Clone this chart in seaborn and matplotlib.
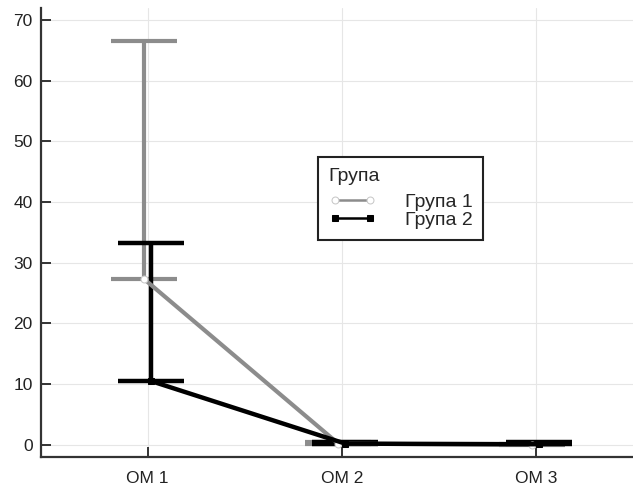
import numpy as np
import pandas as pd
import matplotlib
matplotlib.use("Agg")
import matplotlib.pyplot as plt
import seaborn as sns
from matplotlib.ticker import MultipleLocator

# values
visits = ["OM 1", "OM 2", "OM 3"]
group1_mean = [27.3, 0.2, 0.0]
group1_err_up = [39.2, 0.3, 0.1]
group2_mean = [10.5, 0.2, 0.1]
group2_err_up = [22.8, 0.3, 0.3]
group_names = ["Група 1", "Група 2"]

sns.set_style("whitegrid")
plt.rcParams['font.family'] = ['Liberation Sans', 'DejaVu Sans']

df = pd.DataFrame({
    "visit": visits * 2,
    "pos": list(range(3)) * 2,
    "mean": group1_mean + group2_mean,
    "err": group1_err_up + group2_err_up,
    "group": [group_names[0]] * 3 + [group_names[1]] * 3,
})
offsets = {group_names[0]: -0.018, group_names[1]: 0.018}
df["x"] = df["pos"] + df["group"].map(offsets)

fig = plt.figure(figsize=(6.33, 4.87), dpi=100)
ax = fig.add_axes([0.065, 0.0616, 0.935, 0.9225])

styles = {
    group_names[0]: dict(color="#8c8c8c", marker="o", mfc="white", mec="#c8c8c8", lw=3.0, ms=5),
    group_names[1]: dict(color="black", marker="s", mfc="black", mec="black", lw=3.2, ms=5),
}

for name, sub in df.groupby("group"):
    st = styles[name]
    ax.errorbar(sub["x"], sub["mean"], yerr=[np.zeros(len(sub)), sub["err"]],
                fmt="none", ecolor=st["color"], elinewidth=st["lw"],
                capsize=24, capthick=st["lw"], zorder=2)
    sns.lineplot(data=sub, x="x", y="mean", ax=ax, color=st["color"], lw=st["lw"],
                 marker=st["marker"], markersize=st["ms"], markerfacecolor=st["mfc"],
                 markeredgecolor=st["mec"], label=name, zorder=3)

ax.set_xlim(-0.549, 2.5)
ax.set_ylim(-2, 72)
ax.set_xticks(range(3))
ax.set_xticklabels(visits)
ax.yaxis.set_major_locator(MultipleLocator(10))
ax.yaxis.set_minor_locator(MultipleLocator(5))
ax.set_xlabel("")
ax.set_ylabel("")
ax.grid(True, which="major", color="#e6e6e6", lw=0.8)

for side in ["top", "right"]:
    ax.spines[side].set_visible(False)
for side in ["left", "bottom"]:
    ax.spines[side].set_color("#333333")
    ax.spines[side].set_linewidth(1.6)

ax.tick_params(axis="both", which="major", direction="in", length=7, width=1.4,
               color="#333333", labelsize=12.5, labelcolor="#222222")
ax.tick_params(axis="y", which="minor", direction="in", length=3, width=0.8, color="#999999")
ax.tick_params(axis="x", pad=10)
ax.tick_params(axis="y", left=True, pad=6)
ax.tick_params(axis="x", bottom=True)

handles, labels = ax.get_legend_handles_labels()
leg = ax.legend(handles, labels, title="Група", loc="upper left",
                bbox_to_anchor=(0.468, 0.668), frameon=True, fancybox=False,
                edgecolor="#222222", framealpha=1, fontsize=14, title_fontsize=14,
                handlelength=2.4, handletextpad=1.5, labelspacing=0.05,
                borderpad=0.55, numpoints=2, borderaxespad=0)
leg._legend_box.align = "left"
leg._legend_box.sep = 6
leg.get_frame().set_linewidth(1.5)
for line in leg.get_lines():
    line.set_linewidth(1.8)

fig.savefig("out.png", dpi=100)
